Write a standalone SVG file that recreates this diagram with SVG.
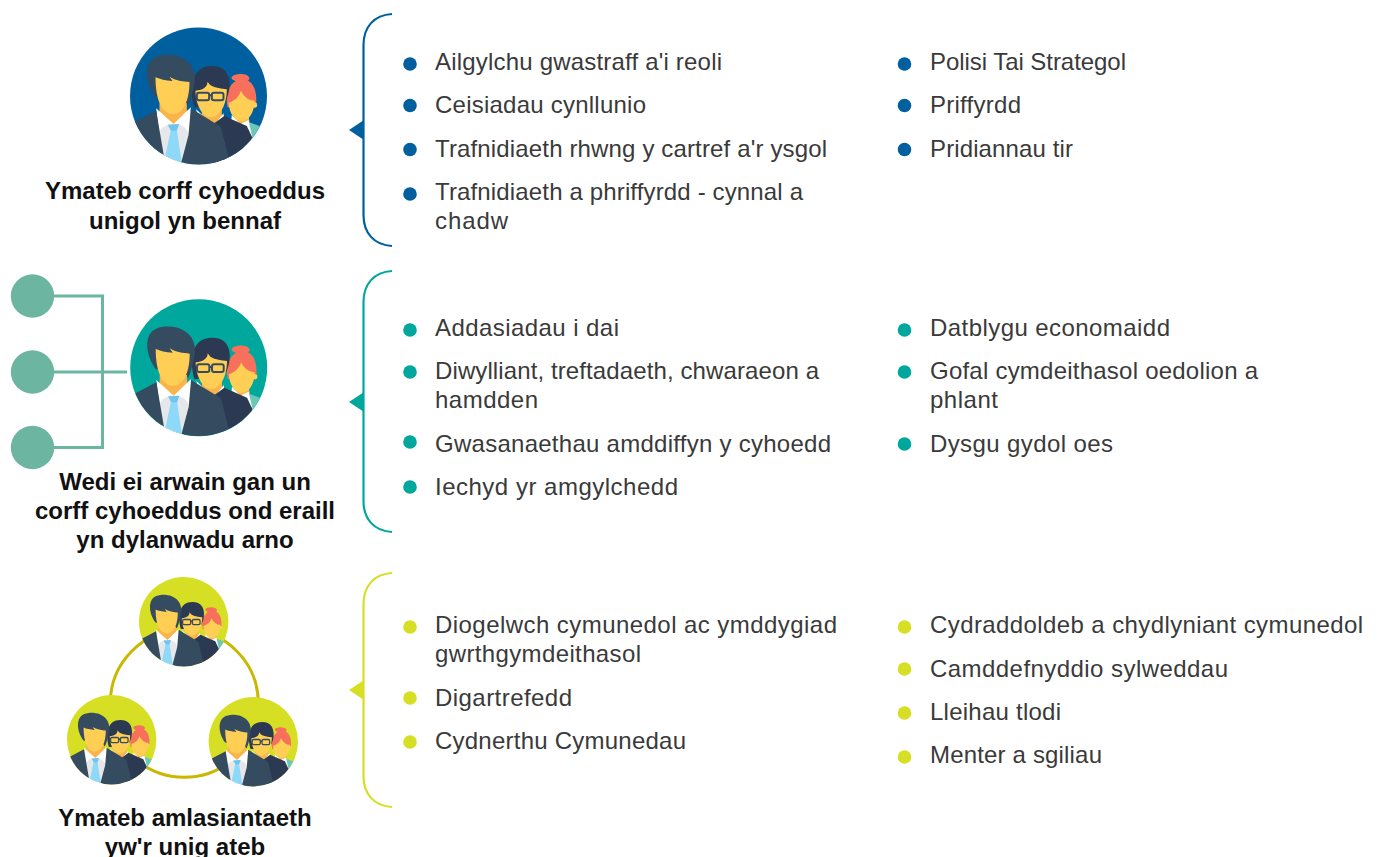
<svg xmlns="http://www.w3.org/2000/svg" xmlns:xlink="http://www.w3.org/1999/xlink" width="1378" height="857" viewBox="0 0 1378 857">
<style>
text{font-family:"Liberation Sans",Arial,sans-serif}
.t{font-size:24px;fill:#3a3a3a}
.b{font-size:24px;font-weight:700;fill:#111;text-anchor:middle}
.br{fill:none;stroke-width:2.2}
.blue{fill:#005f9e}.teal{fill:#00a79d}.lime{fill:#d6df23}
.sb{stroke:#005f9e}.st{stroke:#00a79d}.sl{stroke:#d6df23}
.conn{fill:none;stroke:#6cb5a0;stroke-width:3}
.ring{fill:none;stroke:#c9b800;stroke-width:3}
.node{fill:#6cb5a0}
</style>
<defs>
<clipPath id="c"><circle cx="0" cy="0" r="205"/></clipPath>
<g id="people" clip-path="url(#c)">
<g transform="translate(-235,-228)">
<path fill="#6cc7b8" d="M370,300L450,330L440,440L385,420Z"/>
<path fill="#f6705c" d="M334,174C332,160 385,155 388,175C388,188 340,190 334,174Z"/>
<path fill="#f6705c" d="M322,262C312,205 340,178 368,178C398,178 415,215 406,262Z"/>
<path fill="#f9b54c" d="M345,285L385,285L388,305L365,318L345,300Z"/>
<path fill="#fff" d="M335,285L360,312L385,300L396,350L380,390L330,330Z"/>
<path fill="#ffce54" d="M325,248C345,242 358,228 362,212C372,232 388,242 403,242C403,278 385,304 364,304C345,304 328,282 325,248Z"/>
<circle cx="403" cy="255" r="8" fill="#ffce54"/>
<path fill="#2b3a52" d="M222,262C205,200 215,138 275,138C328,136 340,190 318,240L300,260Z"/>
<path fill="#f9b54c" d="M245,270L305,270L305,295L275,318L245,295Z"/>
<path fill="#fff" d="M228,268L280,318L310,280L316,330L300,350L240,330Z"/>
<path fill="#2b3a52" d="M275,315L312,288L380,318L396,352L385,385L322,420L260,420Z"/>
<path fill="#ffce54" d="M226,212C250,210 262,200 262,185L270,195C285,205 305,205 320,208C320,250 302,292 273,292C245,292 226,250 226,212Z"/>
<g fill="none" stroke="#354b60" stroke-width="6"><rect x="230" y="218" width="37" height="23" rx="6"/><rect x="275" y="218" width="35" height="23" rx="6"/><path d="M267,226L275,226"/></g>
<path fill="#354b60" d="M106,232C72,185 65,110 130,105C195,100 238,140 220,205C216,225 210,245 204,258L150,240Z"/>
<path fill="#f9b54c" d="M118,250L200,250L200,285L160,318L118,285Z"/>
<path fill="#fff" d="M108,265L160,312L212,262L212,340L190,435L125,410Z"/>
<path fill="#e6e7eb" d="M118,335C125,320 140,315 150,312L172,312C190,318 200,325 205,340L190,435L130,415Z"/>
<path fill="#8ed8f8" d="M152,330L170,330L185,428L160,430L135,410Z"/>
<path fill="#6cc5f0" d="M143,314L177,312L170,332L152,332Z"/>
<path fill="#354b60" d="M20,318L108,272L135,430L60,420ZM212,265L302,320L325,412L250,450L180,440L205,345Z"/>
<path fill="#ffce54" d="M106,172C106,240 125,282 158,282C190,282 208,240 208,186C190,184 165,182 148,170L157,183C135,182 120,178 106,172Z"/>
</g>
</g>
</defs>
<g id="connectors">
<path class="conn" d="M54,296H102.500V447.500H54M54,372H127"/>
<circle class="ring" cx="184.300" cy="703.300" r="74"/>
</g>
<g id="node-single">
<circle class="blue" cx="198.500" cy="96" r="68.500"/>
<use xlink:href="#people" href="#people" transform="translate(198.500,96) scale(0.3333)"/>
<text class="b" x="185" y="199">Ymateb corff cyhoeddus</text>
<text class="b" x="185" y="229">unigol yn bennaf</text>
</g>
<g id="node-small-1"><circle class="node" cx="32.500" cy="296" r="21.700"/></g>
<g id="node-small-2"><circle class="node" cx="32.500" cy="372" r="21.700"/></g>
<g id="node-small-3"><circle class="node" cx="32.500" cy="447.500" r="21.700"/></g>
<g id="node-led">
<circle class="teal" cx="198.700" cy="367.700" r="68.500"/>
<use xlink:href="#people" href="#people" transform="translate(198.700,367.700) scale(0.3333)"/>
<text class="b" x="185" y="490">Wedi ei arwain gan un</text>
<text class="b" x="185" y="519">corff cyhoeddus ond eraill</text>
<text class="b" x="185" y="548">yn dylanwadu arno</text>
</g>
<g id="node-multi">
<circle class="lime" cx="183.700" cy="621.700" r="44.700"/>
<use xlink:href="#people" href="#people" transform="translate(183.700,621.700) scale(0.218)"/>
<circle class="lime" cx="111.700" cy="739.700" r="44.700"/>
<use xlink:href="#people" href="#people" transform="translate(111.700,739.700) scale(0.218)"/>
<circle class="lime" cx="253.300" cy="741.700" r="44.700"/>
<use xlink:href="#people" href="#people" transform="translate(253.300,741.700) scale(0.218)"/>
<text class="b" x="185" y="826">Ymateb amlasiantaeth</text>
<text class="b" x="185" y="855">yw'r unig ateb</text>
</g>
<g id="list-blue">
<path class="br sb" d="M392,14C374,15 363.500,27 363.500,45V215C363.500,233 374,245 392,246"/>
<path class="blue" d="M349,130L364,120V140Z"/>
<circle class="blue" cx="410" cy="64" r="6.800"/><circle class="blue" cx="410" cy="105.500" r="6.800"/><circle class="blue" cx="410" cy="149.500" r="6.800"/><circle class="blue" cx="410" cy="194" r="6.800"/>
<circle class="blue" cx="904.500" cy="64" r="6.800"/><circle class="blue" cx="904.500" cy="105.500" r="6.800"/><circle class="blue" cx="904.500" cy="149.500" r="6.800"/>
<text class="t" x="435" y="70" textLength="287">Ailgylchu gwastraff a'i reoli</text>
<text class="t" x="435" y="113" textLength="211">Ceisiadau cynllunio</text>
<text class="t" x="435" y="157" textLength="392">Trafnidiaeth rhwng y cartref a'r ysgol</text>
<text class="t" x="435" y="200" textLength="368">Trafnidiaeth a phriffyrdd - cynnal a</text>
<text class="t" x="435" y="229" textLength="73">chadw</text>
<text class="t" x="930" y="70" textLength="196">Polisi Tai Strategol</text>
<text class="t" x="930" y="113" textLength="91">Priffyrdd</text>
<text class="t" x="930" y="157" textLength="143">Pridiannau tir</text>
</g>
<g id="list-teal">
<path class="br st" d="M392,271C374,272 363.500,284 363.500,302V501C363.500,519 374,531 392,532"/>
<path class="teal" d="M349,402L364,392V412Z"/>
<circle class="teal" cx="410" cy="330" r="6.800"/><circle class="teal" cx="410" cy="372" r="6.800"/><circle class="teal" cx="410" cy="442" r="6.800"/><circle class="teal" cx="410" cy="487" r="6.800"/>
<circle class="teal" cx="904.500" cy="330" r="6.800"/><circle class="teal" cx="904.500" cy="372" r="6.800"/><circle class="teal" cx="904.500" cy="444" r="6.800"/>
<text class="t" x="435" y="336" textLength="184">Addasiadau i dai</text>
<text class="t" x="435" y="379" textLength="384">Diwylliant, treftadaeth, chwaraeon a</text>
<text class="t" x="435" y="408" textLength="103">hamdden</text>
<text class="t" x="435" y="452" textLength="396">Gwasanaethau amddiffyn y cyhoedd</text>
<text class="t" x="435" y="495" textLength="243">Iechyd yr amgylchedd</text>
<text class="t" x="930" y="336" textLength="240">Datblygu economaidd</text>
<text class="t" x="930" y="379" textLength="328">Gofal cymdeithasol oedolion a</text>
<text class="t" x="930" y="408" textLength="68">phlant</text>
<text class="t" x="930" y="452" textLength="183">Dysgu gydol oes</text>
</g>
<g id="list-lime">
<path class="br sl" d="M392,573C374,574 363.500,586 363.500,604V776C363.500,794 374,806 392,807"/>
<path class="lime" d="M349,690L364,680V700Z"/>
<circle class="lime" cx="410" cy="627" r="6.800"/><circle class="lime" cx="410" cy="698" r="6.800"/><circle class="lime" cx="410" cy="742" r="6.800"/>
<circle class="lime" cx="904.500" cy="627" r="6.800"/><circle class="lime" cx="904.500" cy="669" r="6.800"/><circle class="lime" cx="904.500" cy="713" r="6.800"/><circle class="lime" cx="904.500" cy="757" r="6.800"/>
<text class="t" x="435" y="633" textLength="402">Diogelwch cymunedol ac ymddygiad</text>
<text class="t" x="435" y="662" textLength="206">gwrthgymdeithasol</text>
<text class="t" x="435" y="706" textLength="137">Digartrefedd</text>
<text class="t" x="435" y="749" textLength="251">Cydnerthu Cymunedau</text>
<text class="t" x="930" y="633" textLength="433">Cydraddoldeb a chydlyniant cymunedol</text>
<text class="t" x="930" y="677" textLength="298">Camddefnyddio sylweddau</text>
<text class="t" x="930" y="720" textLength="131">Lleihau tlodi</text>
<text class="t" x="930" y="763" textLength="172">Menter a sgiliau</text>
</g>
</svg>
